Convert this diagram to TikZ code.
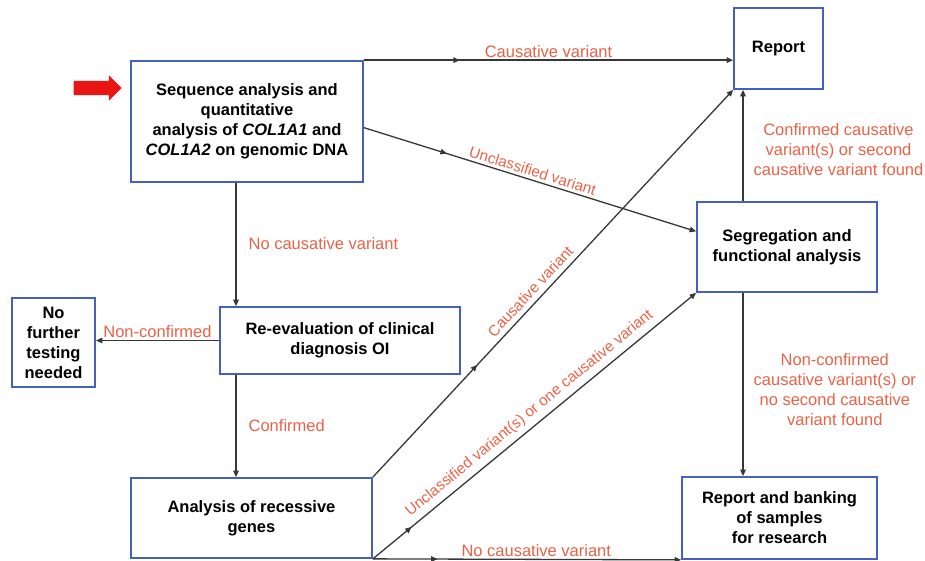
\documentclass[tikz,border=0pt]{standalone}
\usepackage{fontspec}
\setmainfont{Liberation Sans}
\usetikzlibrary{arrows.meta, positioning, calc, shapes.arrows, decorations.markings}
\definecolor{boxedge}{RGB}{70,95,195}
\definecolor{lblred}{RGB}{232,98,70}
\definecolor{linegray}{RGB}{55,55,55}
\definecolor{startred}{RGB}{235,20,20}
\tikzset{
  basebox/.style={rectangle,draw=boxedge,line width=1.7pt,fill=white,align=center,font=\fontsize{16.5}{20}\selectfont\bfseries,inner sep=2pt},
  lbl/.style={font=\fontsize{16.5}{20}\selectfont,text=lblred,align=center,inner sep=2pt},
  slopelbl/.style={lbl,sloped,font=\fontsize{15.2}{18}\selectfont},
  arr/.style={-{Triangle[length=6.5pt,width=5.5pt]},line width=1.3pt,color=linegray},
  midarr/.style={postaction={decorate},decoration={markings,mark=at position #1 with {\arrow{Triangle[length=6.5pt,width=5.5pt]}}}},
  startarrow/.style={single arrow,fill=startred,draw=none,minimum height=48pt,text height=7pt,text depth=7pt,single arrow head extend=5.5pt,single arrow head indent=0pt,inner sep=0pt}
}
\begin{document}
\begin{tikzpicture}[x=1pt,y=-1pt]
  \useasboundingbox (0,0) rectangle (925,561);

  %% Boxes
  \node[startarrow] (start) at (94,88) {};
  \node[basebox,minimum width=232,minimum height=121] (seq) at (247,121.5)
    {Sequence analysis and\\quantitative\\analysis of \textit{COL1A1} and\\\textit{COL1A2} on genomic DNA};
  \node[basebox,minimum width=89,minimum height=81] (report) at (778.5,48.5) {Report};
  \node[basebox,minimum width=180,minimum height=90] (seg) at (787,247)
    {Segregation and\\functional analysis};
  \node[basebox,minimum width=195,minimum height=82] (bank) at (779.5,518)
    {Report and banking\\of samples\\for research};
  \node[basebox,minimum width=83,minimum height=89] (nofurther) at (53.5,342.5)
    {No\\further\\testing\\needed};
  \node[basebox,minimum width=240,minimum height=67] (reeval) at (340,340.5)
    {Re-evaluation of clinical\\diagnosis OI};
  \node[basebox,minimum width=241,minimum height=80] (recess) at (251.5,518)
    {Analysis of recessive\\genes};

  \coordinate (lspine) at (236,0);
  \coordinate (rspine) at (743,0);

  %% Top row
  \draw[arr,midarr=0.26] (seq.north east) -- (seq.north east -| report.west)
    node[lbl,midway,above] {Causative variant};
  \draw[arr,midarr=0.25] ($(seq.north east)!0.55!(seq.south east)$) -- ($(seg.north west)!0.33!(seg.south west)$)
    node[slopelbl,midway,above=1pt] {Unclassified variant};

  %% Left column
  \draw[arr] (seq.south -| lspine) -- (reeval.north -| lspine)
    node[lbl,pos=0.49,right=10pt] {No causative variant};
  \draw[arr] (reeval.west) -- (reeval.west -| nofurther.east)
    node[lbl,midway,above] {Non-confirmed};
  \draw[arr] (reeval.south -| lspine) -- (recess.north -| lspine)
    node[lbl,midway,right=10pt] {Confirmed};

  %% Diagonals and bottom row
  \draw[arr,midarr=0.29] (recess.north east) -- (report.south west)
    node[slopelbl,pos=0.46,above=3pt] {Causative variant};
  \draw[arr,midarr=0.12] (recess.south east) -- (seg.south west)
    node[slopelbl,pos=0.51,above=3pt] {Unclassified variant(s) or one causative variant};
  \draw[arr,midarr=0.21] (recess.south east) -- (bank.south west)
    node[lbl,pos=0.53,above] {No causative variant};

  %% Right column
  \draw[arr] (seg.north -| rspine) -- (report.south -| rspine)
    node[lbl,pos=0.46,right=8pt] {Confirmed causative\\variant(s) or second\\causative variant found};
  \draw[arr] (seg.south -| rspine) -- (bank.north -| rspine)
    node[lbl,pos=0.53,right=8pt] {Non-confirmed\\causative variant(s) or\\no second causative\\variant found};
\end{tikzpicture}
\end{document}
